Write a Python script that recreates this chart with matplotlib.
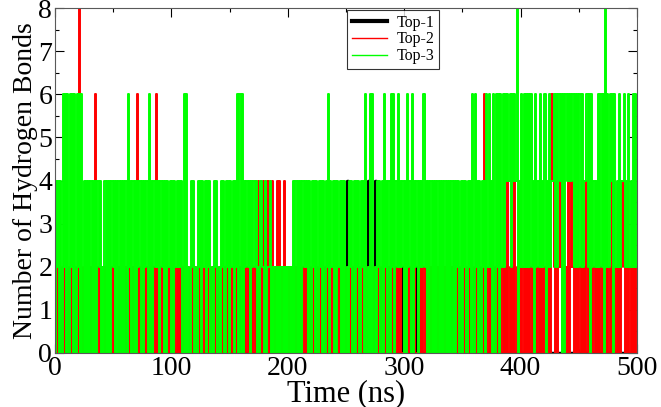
import numpy as np
import matplotlib
matplotlib.use("Agg")
import matplotlib.pyplot as plt

# number of H-bonds, one digit per ~1 ns, 50 ns per string
top1 = [
    "0000000000" "0000000000" "0000000000" "0000000000" "0000000000",
    "0000000000" "0000000000" "0000000000" "0000000000" "0000000000",
    "0000000000" "0000000000" "0000000000" "0000000000" "0000000000",
    "0000000000" "0000000000" "0000000000" "0000000000" "0000000000",
    "0000000000" "0000000000" "0000000000" "0000000000" "0000000000",
    "0400000000" "0000000004" "0000040000" "0000200000" "0000000002",
    "0000000000" "2000000000" "0000000000" "0000000000" "0000000000",
    "0000000000" "0000000000" "0000000000" "0000000000" "0000000000",
    "0000000000" "0000000000" "0000000000" "0000000000" "0000000000",
    "0000000000" "0000000000" "0000000000" "0000000000" "0000000000" "0",
]
top2 = [
    "0202020202" "0202020202" "0802020202" "0202060202" "0202020202",
    "0202020202" "0202020202" "0602020202" "0202020602" "0202020202",
    "0202020202" "0202020202" "0202020202" "0202020202" "0202020202",
    "0202020202" "0202020202" "0202040204" "0204020402" "0404020402",
    "0202020202" "0202020202" "0202020202" "0202020202" "0202020202",
    "0202020202" "0202020202" "0202020202" "0202000202" "0202020200",
    "0202020202" "0002020202" "0202020202" "0202020202" "0202020202",
    "0202020202" "0202020206" "0202020202" "0202020204" "0202040202",
    "0202020202" "0202020202" "0202020642" "0202420202" "0402420202",
    "0202020402" "0202020202" "0202020204" "0202020242" "0202020202" "0",
]
top3 = [
    "0424040626" "0606260606" "2606040404" "0404040424" "0204040404",
    "2404040404" "0406240404" "0424040424" "0604042424" "0424040424",
    "0404242424" "0606020424" "0204240424" "0424020424" "0204240424",
    "0424042606" "0604242404" "2424020422" "0402240202" "0202020202",
    "0202040404" "0404242404" "0424040424" "0404260424" "0404240404",
    "0204240404" "2404240602" "0606020424" "0406240406" "2604262424",
    "0406240604" "2404242624" "0404040404" "0404040404" "0404042404",
    "0424042406" "0624040424" "0626240606" "2606262646" "4626464804",
    "2626262626" "2406242624" "2604262446" "2626460606" "4646462626",
    "2626244626" "0624242626" "2608262646" "0624262446" "2426242626" "2",
]
labels = ["Top-1", "Top-2", "Top-3"]
colors = ["black", "#ff0000", "#00ff00"]
widths = [2.5, 1.4, 1.4]

plt.rcParams["font.family"] = ["Liberation Serif", "DejaVu Serif"]

fig = plt.figure(figsize=(6.61, 4.07), dpi=100)
ax = fig.add_axes([0.0832, 0.1327, 0.8805, 0.8476])

for chunks, lab, col, lw in zip([top1, top2, top3], labels, colors, widths):
    y = np.array([int(c) for c in "".join(chunks)], dtype=float)
    t = np.linspace(0, 500, len(y))
    ax.plot(t, y, color=col, lw=lw, label=lab, drawstyle="steps-mid")

ax.set_xlim(0, 500)
ax.set_ylim(0, 8)
ax.set_xticks(range(0, 501, 100))
ax.set_xticks(range(50, 500, 100), minor=True)
ax.set_yticks(range(0, 9))
ax.set_yticks(np.arange(0.5, 8, 1.0), minor=True)
ax.tick_params(which="both", direction="in", top=True, right=True, labelsize=20, pad=2)
ax.tick_params(which="major", length=6.5, width=0.8)
ax.tick_params(which="minor", length=3, width=0.8)
for s in ax.spines.values():
    s.set_linewidth(0.8)
    s.set_color("0.35")

ax.set_xlabel("Time (ns)", fontsize=22, labelpad=-1)
ax.set_ylabel("Number of Hydrogen Bonds", fontsize=20, labelpad=0)

leg = ax.legend(loc="upper left", bbox_to_anchor=(0.502, 0.995), fontsize=11.5,
                frameon=True, fancybox=False, borderpad=0.3, labelspacing=0.05,
                handlelength=2.2, handletextpad=0.6, borderaxespad=0)
leg.get_frame().set_edgecolor("black")
leg.get_frame().set_linewidth(0.8)
for h, lw in zip(leg.get_lines(), [3.0, 1.0, 1.0]):
    h.set_linewidth(lw)

plt.savefig("out.png", dpi=100)
